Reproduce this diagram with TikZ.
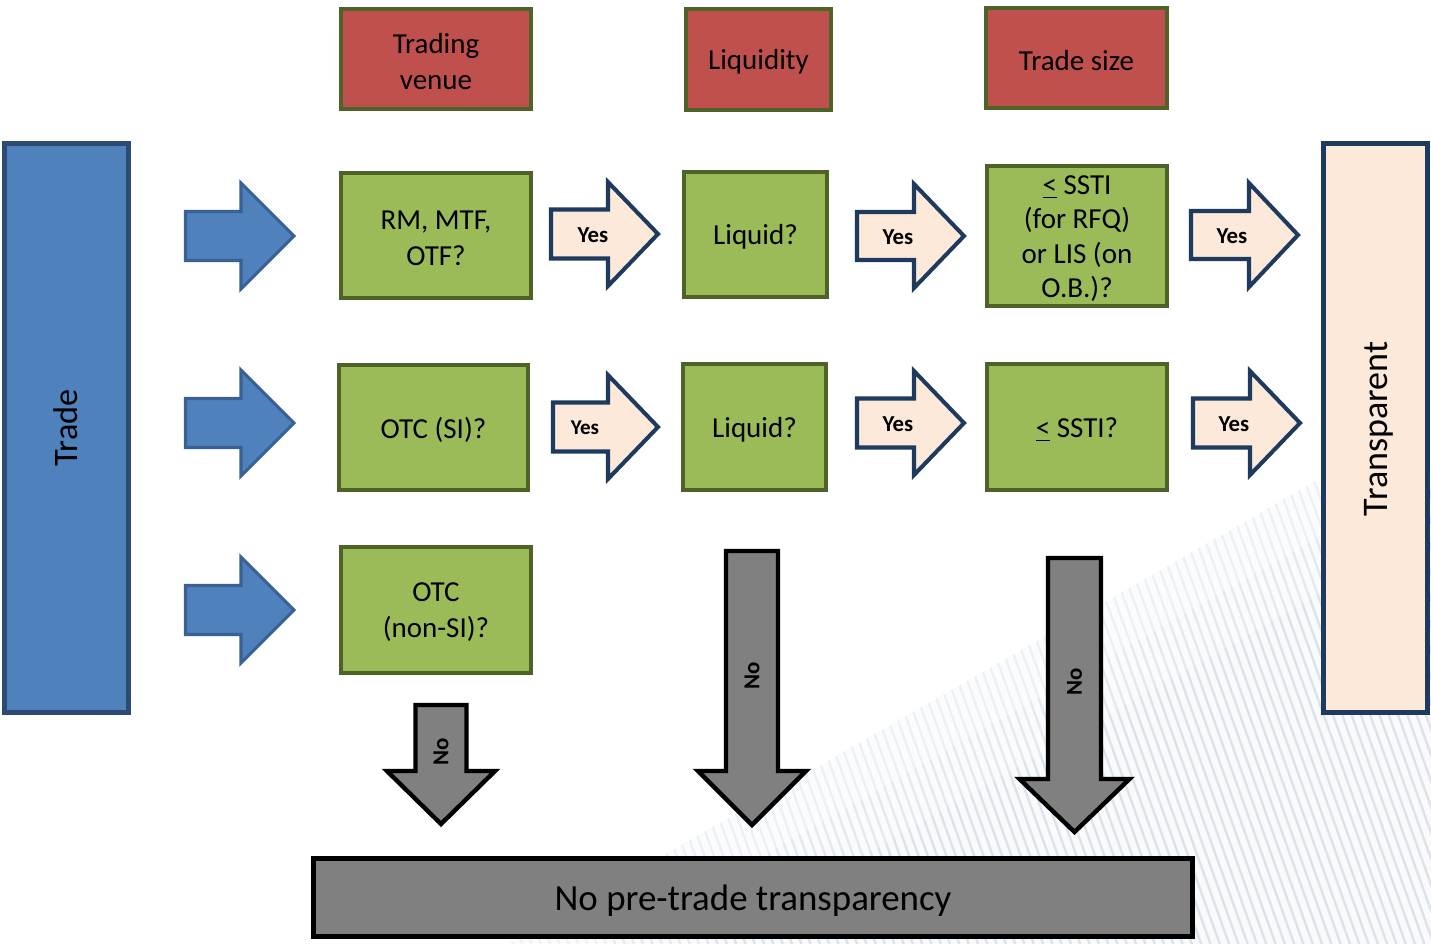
\documentclass[tikz,border=0pt]{standalone}
\usepackage{fontspec}
\setmainfont{Carlito}
\definecolor{tblue}{HTML}{4F81BD}
\definecolor{tblueline}{HTML}{2B4B73}
\definecolor{arrblueline}{HTML}{3A6195}
\definecolor{peach}{HTML}{FDE9D9}
\definecolor{navy}{HTML}{1F3A5F}
\definecolor{tred}{HTML}{C0504D}
\definecolor{olive}{HTML}{4F6228}
\definecolor{tgreen}{HTML}{9BBB59}
\definecolor{tgray}{HTML}{808080}
\definecolor{stripebg}{HTML}{F8FAFC}
\definecolor{stripefg}{HTML}{DCE2EA}
\newcommand{\RArr}[7]{%
  \draw[#1] (#2,#5-#6) -- (#3,#5-#6) -- (#3,#5-#7) -- (#4,#5) -- (#3,#5+#7) -- (#3,#5+#6) -- (#2,#5+#6) -- cycle;}
\newcommand{\DArr}[7]{%
  \draw[#1] (#2-#6,#3) -- (#2-#6,#4) -- (#2-#7,#4) -- (#2,#5) -- (#2+#7,#4) -- (#2+#6,#4) -- (#2+#6,#3) -- cycle;}
% #1 style, #2 name, #3 x, #4 y, #5 width, #6 height, #7 text
\newcommand{\TBox}[7]{%
  \node[#1, minimum width=#5*0.02cm, minimum height=#6*0.02cm] (#2) at (#3,#4) {};
  \node[boxtext] (#2-t) at (#3,#4+2.5) {#7};}
\tikzset{
  box/.style={draw, line width=2.5pt, inner sep=0pt},
  boxtext/.style={inner sep=0pt, align=center, font=\fontsize{16.5}{20.5}\selectfont},
  hdrbox/.style={box, fill=tred, draw=olive},
  qbox/.style={box, fill=tgreen, draw=olive},
  tradebox/.style={draw=tblueline, fill=tblue, line width=2.8pt, inner sep=0pt},
  transbox/.style={draw=navy, fill=peach, line width=2.8pt, inner sep=0pt},
  bottombox/.style={draw=black, fill=tgray, line width=2.8pt, inner sep=0pt},
  bluearrow/.style={draw=arrblueline, fill=tblue, line width=1.8pt},
  yesarrow/.style={draw=navy, fill=peach, line width=2.3pt},
  noarrow/.style={draw=black, fill=tgray, line width=2.5pt},
  yeslbl/.style={font=\bfseries\fontsize{13}{15}\selectfont, inner sep=0pt},
  nolbl/.style={font=\bfseries\fontsize{13}{15}\selectfont, rotate=90, inner sep=0pt},
  stripe/.style={draw=stripefg, line width=1.3pt},
}
\begin{document}
\begin{tikzpicture}[x=0.02cm, y=-0.02cm]
\useasboundingbox (0,0) rectangle (1431,944);
% striped background
\begin{scope}
  \clip (509,944) -- (1330,473) -- (1431,473) -- (1431,944) -- cycle;
  \fill[stripebg] (0,0) rectangle (1431,944);
  \foreach \i in {0,...,135} \draw[stripe] ({250+9.3*\i},470) -- ++(170,474);
  \fill[white, opacity=0.5] (509,944) -- (1330,473) -- (1355,516) -- (534,987) -- cycle;
  \fill[white, opacity=0.25] (534,987) -- (1355,516) -- (1380,559) -- (559,1030) -- cycle;
\end{scope}
% side boxes
\node[tradebox, minimum width=124*0.02cm, minimum height=569*0.02cm] (trade) at (66.5,428) {};
\node[rotate=90, font=\fontsize{19.5}{23}\selectfont] (tradelbl) at (66,428) {Trade};
\node[transbox, minimum width=104*0.02cm, minimum height=569*0.02cm] (trans) at (1375.5,428) {};
\node[rotate=90, font=\fontsize{20.5}{24}\selectfont] (translbl) at (1378.5,429) {Transparent};
% header boxes
\TBox{hdrbox}{tv}{436}{59}{189.5}{99.5}{Trading\\venue}
\TBox{hdrbox}{liq}{758.5}{59.5}{144.5}{100.5}{Liquidity}
\TBox{hdrbox}{ts}{1076.5}{58}{180.5}{99.5}{Trade size}
% question boxes
\TBox{qbox}{rm}{436}{235.5}{189.5}{124.5}{RM, MTF,\\OTF?}
\TBox{qbox}{lq1}{755.5}{234.5}{142.5}{124.5}{Liquid?}
\node[qbox, minimum width=179.5*0.02cm, minimum height=139.5*0.02cm] (ss1) at (1077,236) {};
\node[boxtext, font=\fontsize{16.5}{19.5}\selectfont] (ss1-t) at (1077,238.5) {\underline{<} SSTI\\(for RFQ)\\or LIS (on\\O.B.)?};
\TBox{qbox}{si}{433.5}{427.5}{188.5}{124.5}{OTC (SI)?}
\TBox{qbox}{lq2}{754.5}{427}{142.5}{125.5}{Liquid?}
\TBox{qbox}{ss2}{1077}{427}{179.5}{125.5}{\underline{<} SSTI?}
\TBox{qbox}{nsi}{436}{610}{189.5}{125.5}{OTC\\(non-SI)?}
% bottom box
\node[bottombox, minimum width=879*0.02cm, minimum height=78*0.02cm] (npt) at (753,897.5) {};
\node[inner sep=0pt, font=\fontsize{21}{25}\selectfont] (npt-t) at (753,900.5) {No pre-trade transparency};
% blue arrows
\RArr{bluearrow}{185.5}{241}{294}{236}{24.5}{53}
\RArr{bluearrow}{185.5}{241}{294}{423}{24.5}{53}
\RArr{bluearrow}{185.5}{241}{294}{610}{24.5}{53}
% yes arrows
\RArr{yesarrow}{551}{608}{658}{234}{24.5}{52}
\RArr{yesarrow}{857}{914}{964}{236}{24}{52}
\RArr{yesarrow}{1191}{1249}{1298}{235}{24}{52}
\RArr{yesarrow}{553}{608}{658}{427}{24.5}{52}
\RArr{yesarrow}{857}{914}{964}{423}{24.5}{52}
\RArr{yesarrow}{1193}{1250}{1300}{423}{24.5}{52}
\node[yeslbl] (y11) at (593,235) {Yes};
\node[yeslbl] (y12) at (898,237) {Yes};
\node[yeslbl] (y13) at (1232,236) {Yes};
\node[yeslbl, font=\bfseries\fontsize{12}{14}\selectfont] (y21) at (585,428) {Yes};
\node[yeslbl] (y22) at (898,424) {Yes};
\node[yeslbl] (y23) at (1234,424) {Yes};
% no arrows
\DArr{noarrow}{441}{705}{771}{824}{25.5}{54}
\DArr{noarrow}{752}{551}{771}{825}{26}{54}
\DArr{noarrow}{1074.5}{558}{779}{832}{26.5}{55}
\node[nolbl] (n1) at (441,752) {No};
\node[nolbl] (n2) at (752,676) {No};
\node[nolbl] (n3) at (1074.5,682) {No};
\end{tikzpicture}
\end{document}
